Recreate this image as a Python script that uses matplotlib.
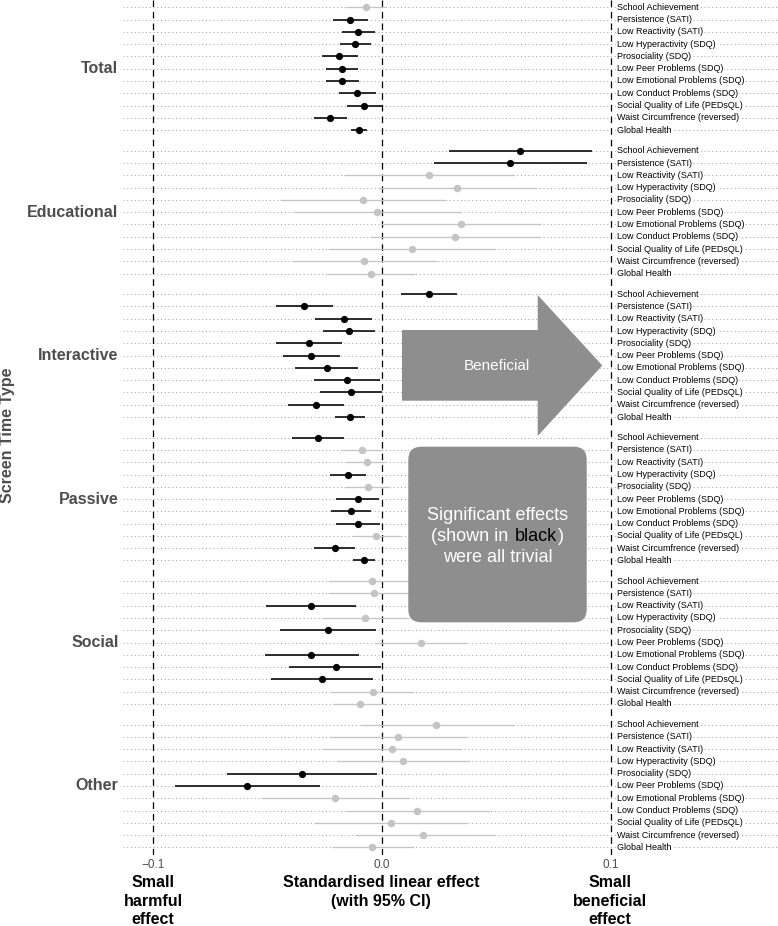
import matplotlib
matplotlib.use("Agg")
import matplotlib.pyplot as plt
from matplotlib.patches import Polygon, FancyBboxPatch
from matplotlib.text import Annotation

plt.rcParams['font.family'] = ['Liberation Sans', 'DejaVu Sans']

# ---------------- data ----------------
groups = ['Total', 'Educational', 'Interactive', 'Passive', 'Social', 'Other']
outcomes = ['School Achievement', 'Persistence (SATI)', 'Low Reactivity (SATI)',
            'Low Hyperactivity (SDQ)', 'Prosociality (SDQ)', 'Low Peer Problems (SDQ)',
            'Low Emotional Problems (SDQ)', 'Low Conduct Problems (SDQ)',
            'Social Quality of Life (PEDsQL)', 'Waist Circumfrence (reversed)', 'Global Health']

est_total = [-0.0071, -0.0138, -0.0103, -0.0117, -0.0186, -0.0175, -0.0173, -0.0110, -0.0077, -0.0225, -0.0099]
lo_total  = [-0.0158, -0.0214, -0.0173, -0.0182, -0.0262, -0.0244, -0.0244, -0.0190, -0.0151, -0.0296, -0.0134]
hi_total  = [ 0.0014, -0.0060, -0.0030, -0.0047, -0.0106, -0.0103, -0.0099, -0.0028, -0.0002, -0.0153, -0.0065]

est_educational = [0.0604, 0.0560, 0.0207, 0.0329, -0.0085, -0.0024, 0.0344, 0.0319, 0.0132, -0.0079, -0.0050]
lo_educational  = [0.0294, 0.0226, -0.0168, -0.0018, -0.0447, -0.0385, -0.0006, -0.0052, -0.0235, -0.0388, -0.0241]
hi_educational  = [0.0919, 0.0894, 0.0578, 0.0676, 0.0273, 0.0347, 0.0695, 0.0691, 0.0494, 0.0241, 0.0144]

est_interactive = [0.0204, -0.0340, -0.0166, -0.0145, -0.0321, -0.0309, -0.0241, -0.0153, -0.0137, -0.0288, -0.0141]
lo_interactive  = [0.0085, -0.0462, -0.0293, -0.0256, -0.0465, -0.0432, -0.0379, -0.0297, -0.0271, -0.0410, -0.0206]
hi_interactive  = [0.0326, -0.0215, -0.0044, -0.0029, -0.0173, -0.0184, -0.0103, -0.0010, -0.0001, -0.0165, -0.0073]

est_passive = [-0.0279, -0.0087, -0.0066, -0.0150, -0.0063, -0.0106, -0.0137, -0.0106, -0.0028, -0.0207, -0.0078]
lo_passive  = [-0.0391, -0.0176, -0.0157, -0.0227, -0.0160, -0.0201, -0.0224, -0.0203, -0.0132, -0.0297, -0.0125]
hi_passive  = [-0.0168, 0.0004, 0.0015, -0.0071, 0.0029, -0.0013, -0.0046, -0.0010, 0.0078, -0.0119, -0.0031]

est_social = [-0.0044, -0.0035, -0.0310, -0.0075, -0.0235, 0.0170, -0.0309, -0.0203, -0.0260, -0.0041, -0.0096]
lo_social  = [-0.0235, -0.0238, -0.0506, -0.0259, -0.0444, -0.0032, -0.0513, -0.0404, -0.0483, -0.0221, -0.0215]
hi_social  = [0.0147, 0.0168, -0.0112, 0.0109, -0.0028, 0.0372, -0.0101, -0.0006, -0.0038, 0.0141, 0.0017]

est_other = [0.0235, 0.0071, 0.0045, 0.0092, -0.0348, -0.0588, -0.0204, 0.0154, 0.0039, 0.0180, -0.0045]
lo_other  = [-0.0093, -0.0233, -0.0258, -0.0196, -0.0676, -0.0904, -0.0527, -0.0159, -0.0299, -0.0119, -0.0219]
hi_other  = [0.0575, 0.0370, 0.0345, 0.0384, -0.0021, -0.0271, 0.0117, 0.0470, 0.0372, 0.0492, 0.0139]

estimates = [est_total, est_educational, est_interactive, est_passive, est_social, est_other]
lowers = [lo_total, lo_educational, lo_interactive, lo_passive, lo_social, lo_other]
uppers = [hi_total, hi_educational, hi_interactive, hi_passive, hi_social, hi_other]

x_ticks = [-0.1, 0.0, 0.1]
x_ticklabels = ['\u22120.1', '0.0', '0.1']

# ---------------- layout ----------------
W, H = 778, 926
fig = plt.figure(figsize=(W / 100, H / 100), dpi=100)
ax = fig.add_axes([123 / W, 1 - 855 / H, (W - 123) / W, 855 / H])

GROUP_STEP = 11.68

def ypos(g, r):
    return g * GROUP_STEP + r

for g in range(len(groups)):
    for r in range(len(outcomes)):
        ax.axhline(ypos(g, r), color='#a6a6a6', lw=0.75, ls=(0, (1, 2.6)), zorder=0)

for xv in x_ticks:
    ax.axvline(xv, color='black', lw=0.9, ls=(0, (5.3, 4)), zorder=1)

SIG_C = 'black'
NS_C = '#c4c4c4'
for g in range(len(groups)):
    for r in range(len(outcomes)):
        e, lo, hi = estimates[g][r], lowers[g][r], uppers[g][r]
        y = ypos(g, r)
        sig = hi < 0 or lo > 0
        if sig:
            ax.plot([lo, hi], [y, y], color=SIG_C, lw=1.15, solid_capstyle='butt', zorder=3)
            ax.plot([e], [y], 'o', color=SIG_C, ms=5.2, mew=0, zorder=4)
        else:
            ax.plot([lo, hi], [y, y], color=NS_C, lw=0.9, solid_capstyle='butt', zorder=2)
            ax.plot([e], [y], 'o', color=NS_C, ms=5.4, mew=0, zorder=2.5)
        ax.text(0.1028, y, outcomes[r], fontsize=6.5, ha='left', va='center',
                color='black', zorder=5,
                bbox=dict(facecolor='white', edgecolor='none', pad=0.3))
    ax.annotate(groups[g], xy=(0, ypos(g, 5)), xycoords=('axes fraction', 'data'),
                xytext=(-3.3, 0), textcoords='offset points', ha='right', va='center',
                fontsize=11.5, fontweight='bold', color='#4d4d4d', annotation_clip=False)

ax.set_xlim(-0.1131, 0.1729)
ax.set_ylim(ypos(len(groups) - 1, 10) + 0.62, -0.594)
ax.set_xticks(x_ticks)
ax.set_xticklabels(x_ticklabels)
ax.set_yticks([])
ax.tick_params(axis='x', length=0, pad=3.0, labelsize=8.5, labelcolor='#4d4d4d')
for s in ax.spines.values():
    s.set_visible(False)

# y-axis title
fig.text(7.5 / W, 1 - 435 / H, 'Screen Time Type', rotation=90, ha='center', va='center',
         fontsize=11.5, fontweight='bold', color='#4d4d4d')

# bottom annotations
bot_kw = dict(ha='center', va='top', fontsize=11.5, fontweight='bold',
              color='black', linespacing=1.30, multialignment='center')
fig.text(153 / W, 1 - 875 / H, 'Small\nharmful\neffect', **bot_kw)
fig.text(381 / W, 1 - 875 / H, 'Standardised linear effect\n(with 95% CI)', **bot_kw)
fig.text(610 / W, 1 - 875 / H, 'Small\nbeneficial\neffect', **bot_kw)

# arrow (pixel -> inch coords)
SHAPE_C = '#8e8e8e'
def px(x, y):
    return (x / 100.0, (H - y) / 100.0)

arrow_pts = [px(402, 330), px(537.7, 330), px(537.7, 295), px(602.3, 365.5),
             px(537.7, 436), px(537.7, 400.7), px(402, 400.7)]
fig.add_artist(Polygon(arrow_pts, closed=True, facecolor=SHAPE_C, edgecolor='none',
                       transform=fig.dpi_scale_trans, zorder=2))
bx, by = px(497, 366)
fig.text(bx, by, 'Beneficial', transform=fig.dpi_scale_trans, ha='center', va='center',
         color='white', fontsize=11, zorder=3)

# rounded box
x0, y0 = px(408.3, 622.3)
x1, y1 = px(586.7, 446.7)
fig.add_artist(FancyBboxPatch((x0, y0), x1 - x0, y1 - y0,
                              boxstyle='round,pad=0,rounding_size=0.13',
                              facecolor=SHAPE_C, edgecolor='none',
                              transform=fig.dpi_scale_trans, zorder=2))
cx_px = (408.3 + 586.7) / 2
box_kw = dict(transform=fig.dpi_scale_trans, ha='center', va='baseline',
              color='white', fontsize=13, zorder=3)
fig.text(cx_px / 100.0, (H - 520) / 100.0, 'Significant effects', **box_kw)
fig.text(cx_px / 100.0, (H - 562) / 100.0, 'were all trivial', **box_kw)

# middle line in three pieces: "(shown in" white, "black" black, ")" white
t_a = fig.text(cx_px / 100.0, (H - 541) / 100.0, '(shown in', transform=fig.dpi_scale_trans,
               ha='left', va='baseline', color='white', fontsize=13, zorder=3)
t_b = Annotation('black', xy=(1, 0), xycoords=t_a, xytext=(4.4, 0),
                 textcoords='offset points', ha='left', va='bottom',
                 color='black', fontsize=13, zorder=4)
fig.add_artist(t_b)
t_c = Annotation(')', xy=(1, 0), xycoords=t_b, xytext=(0.7, 0),
                 textcoords='offset points', ha='left', va='bottom',
                 color='white', fontsize=13, zorder=3)
fig.add_artist(t_c)

fig.canvas.draw()
renderer = fig.canvas.get_renderer()
bb_a = t_a.get_window_extent(renderer)
bb_c = t_c.get_window_extent(renderer)
total_w = bb_c.x1 - bb_a.x0
t_a.set_x((cx_px - total_w / 2.0) / fig.dpi)

fig.savefig('out.png', dpi=100)
